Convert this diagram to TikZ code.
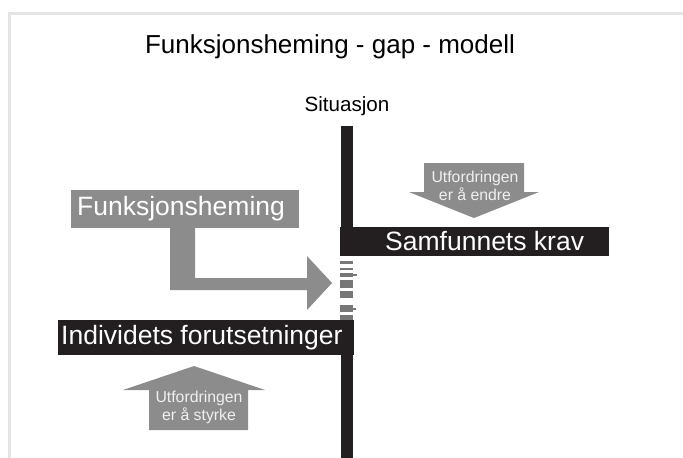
\documentclass[tikz,border=0pt]{standalone}
\usepackage{fontspec}
\setmainfont{Liberation Sans}
\usetikzlibrary{positioning}
\definecolor{gapblack}{RGB}{35,31,32}
\definecolor{gapgray}{RGB}{140,140,141}
\definecolor{framegray}{RGB}{228,228,228}

\begin{document}
\begin{tikzpicture}[x=1pt, y=-1pt,
    blackbox/.style={fill=gapblack, text=white, inner ysep=0pt, inner xsep=0pt, font=\fontsize{26.5}{30}\selectfont},
    graybox/.style={fill=gapgray, text=white, inner ysep=0pt, inner xsep=0pt, font=\fontsize{26.5}{30}\selectfont},
    smalltext/.style={text=white!94!black, align=center, font=\fontsize{15.8}{18}\selectfont}]
\useasboundingbox (0,0) rectangle (683,458);

% Frame
\draw[framegray, line width=3pt] (690,13) -- (9,13) -- (9,470);

% Title
\node (title) at (330,47) {\fontsize{26}{30}\selectfont Funksjonsheming - gap - modell};
\node (situasjon) at (347,106) {\fontsize{20.6}{24}\selectfont Situasjon};

% Situation line, upper and lower part
\fill[gapblack] (341,126) rectangle (353,230);
\fill[gapblack] (341,352) rectangle (353,460);

% The gap
\foreach \ya/\yb in {260.5/263.5, 267.5/270, 272.5/276.5, 280/288, 291/298, 305/312, 315/320}
    \fill[gapgray!85!black] (340,\ya) rectangle (353,\yb);
\fill[gapgray!85!black] (353,274) rectangle (357,276);
\fill[gapgray!85!black] (353,308) rectangle (356,310);

% Samfunnets krav
\node[blackbox, minimum height=29pt, anchor=west] (krav) at (340,241.5) {\hspace*{45pt}Samfunnets krav\hspace*{25pt}};

% Individets forutsetninger
\node[blackbox, minimum height=35pt, anchor=west] (individ) at (58,337.5) {\hspace*{3pt}Individets forutsetninger\hspace*{11pt}};

% Funksjonsheming and arrow towards the gap
\coordinate (gap) at (332,283);
\fill[gapgray] (170,226) -- (195,226) -- (195,278) -- (307,278) -- (307,256) -- (gap)
    -- (307,310) -- (307,290) -- (170,290) -- cycle;
\node[graybox, minimum height=38pt, anchor=west] (funk) at (71,209) {\hspace*{6pt}Funksjonsheming\hspace*{14pt}};

% Arrow down: endre
\fill[gapgray] (424,163) -- (524,163) -- (524,192) -- (539,192) -- (474,218)
    -- (409,192) -- (424,192) -- cycle;
\node[smalltext] (endre) at (475,186) {Utfordringen\\er å endre};

% Arrow up: styrke
\fill[gapgray] (149,430) -- (248,430) -- (248,390) -- (265,390) -- (194,366)
    -- (123,390) -- (149,390) -- cycle;
\node[smalltext] (styrke) at (199,407) {Utfordringen\\er å styrke};
\end{tikzpicture}
\end{document}
